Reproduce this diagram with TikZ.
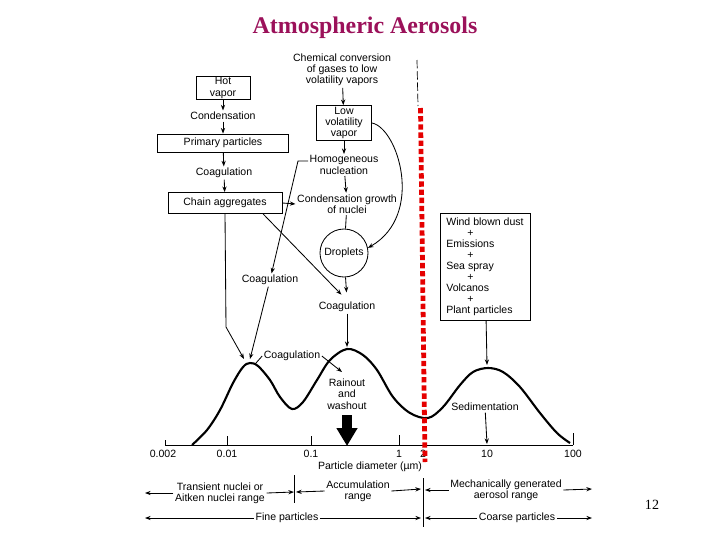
\documentclass[tikz,border=0pt]{standalone}
\usepackage{fontspec}
\setmainfont{Liberation Sans}
\newfontfamily\titlefont{Liberation Serif}
\usetikzlibrary{arrows.meta}
\definecolor{titlered}{RGB}{155,17,90}

\begin{document}
\begin{tikzpicture}
  [
    x=0.025cm,y=-0.025cm,
    font=\fontsize{7.5}{8}\selectfont,
    box/.style={draw,line width=0.6pt,align=center,inner sep=1pt},
    txt/.style={align=center,inner sep=1pt},
    arr/.style={line width=0.6pt,-{Stealth[length=4pt,width=3pt]}},
    plain/.style={line width=0.6pt},
    curve/.style={line width=1.5pt,line join=round},
    bigarr/.style={line width=0.25cm,-{Triangle[width=0.5cm,length=0.45cm]}},
    red dash/.style={draw=red!90!black,line width=3.4pt,dash pattern=on 3.8pt off 2pt},
  ]

  \useasboundingbox (0,0) rectangle (720,540);

  \node(title)[font=\titlefont\bfseries\fontsize{17}{20}\selectfont,text=titlered] at (365,28) {Atmospheric Aerosols};

  \node(hot)[box,minimum width=1.35cm,minimum height=0.575cm] at (223,88) {Hot\\vapor};
  \node(cond)[txt] at (223,116) {Condensation};
  \node(prim)[box,minimum width=3.275cm,minimum height=0.45cm] at (223,143) {Primary particles};
  \node(coag1)[txt] at (224,173) {Coagulation};
  \node(chain)[box,minimum width=2.85cm,minimum height=0.525cm] at (225,203) {Chain aggregates};

  \node(chem)[txt] at (342,70) {Chemical conversion\\of gases to low\\volatility vapors};
  \node(lowvap)[box,minimum width=1.375cm,minimum height=0.8cm] at (344,123) {Low\\volatility\\vapor};
  \node(homog)[txt] at (344,165) {Homogeneous\\nucleation};
  \node(condg)[txt] at (347,204) {Condensation growth\\of nuclei};
  \node(drop)[circle,draw,line width=0.6pt,minimum size=1.2cm,inner sep=0pt] at (344,253) {Droplets};
  \node(coagm)[txt] at (347,307) {Coagulation};
  \node(coagl)[txt] at (270,280) {Coagulation};
  \node(coagp)[txt] at (292,356) {Coagulation};
  \node(rain)[txt] at (347,394) {Rainout\\and\\washout};
  \node(sed)[txt] at (485,407) {Sedimentation};
  \node(wind)[box,align=left,font=\fontsize{7.5}{7.8}\selectfont,minimum width=2.25cm,minimum height=2.675cm,inner sep=3pt] at (485,266.5)
    {Wind blown dust\\\hspace*{15pt}+\\Emissions\\\hspace*{15pt}+\\Sea spray\\\hspace*{15pt}+\\Volcanos\\\hspace*{15pt}+\\Plant particles};

  \coordinate (bend) at (226,327);
  \coordinate (pk1a) at (244,359);
  \coordinate (pk1b) at (250,359);
  \coordinate (pk1c) at (256,363);
  \coordinate (pk2) at (347,347);
  \coordinate (pk3) at (487,365);
  \coordinate (hn) at (298,161);
  \coordinate (rn) at (342,372);
  \coordinate (ax10) at (487,444);

  \draw[arr] (hot) -- (cond);
  \draw[arr] (cond) -- (prim);
  \draw[arr] (prim) -- (coag1);
  \draw[arr] (coag1) -- (chain);
  \draw[arr] (chain.east) -- (condg.west);
  \draw[arr] (chain.south) -- (bend) -- (pk1a);
  \draw[arr,shorten >=2mm] (chain.-16) -- (coagm.north);
  \draw[arr] (chem) -- (lowvap);
  \draw[arr] (lowvap) -- (homog);
  \draw[arr] (homog) -- (condg);
  \draw[plain] (condg) -- (drop);
  \draw[arr,shorten >=2mm] (drop) -- (coagm.north);
  \draw[arr] (lowvap.east) .. controls (398,128) and (425,215) .. (drop.12);
  \draw[arr] (coagm) -- (pk2);
  \draw[arr] (homog.west |- hn) -- (hn) -- (coagl);
  \draw[arr] (coagl) -- (pk1b);
  \draw[plain] (coagp.west) -- (pk1c);
  \draw[arr] (coagp.east) -- (rn);
  \draw[arr] (wind) -- (pk3);
  \draw[arr] (sed) -- (ax10);
  \draw[bigarr,shorten <=3pt] (rain.south) -- (rain.south |- 0,446);

  \draw[curve] plot[smooth,tension=0.55] coordinates {
    (192,445) (207,430) (220,410) (233,383) (243,367) (250,363) (258,366)
    (270,380) (280,397) (292,409) (303,402) (317,380) (330,360) (347,349)
    (363,355) (377,370) (393,397) (410,413) (428,418) (443,407) (460,385)
    (473,372) (488,368) (503,372) (520,387) (540,413) (557,433) (570,443)};

  \draw[plain] (165,445) -- (573,445);
  \foreach \x/\h in {165/440,227/436,311/436,399/435,573/433}
    \draw[plain] (\x,445) -- (\x,\h);
  \foreach \x/\l [count=\i] in {163/0.002,227/0.01,311/0.1,399/1,423/2,487/10,573/100}
    \node(lab\i)[txt] at (\x,454) {\l};
  \node(xlab)[txt] at (370,467) {Particle diameter (µm)};

  \draw[line width=0.5pt,dash pattern=on 6pt off 2pt] (417,60) -- (418,106);
  \draw[red dash] (420.5,108) -- (425,462);

  \node(trans)[txt] at (220,493) {Transient nuclei or\\Aitken nuclei range};
  \node(accu)[txt] at (358,491) {Accumulation\\range};
  \node(mech)[txt] at (506,490) {Mechanically generated\\aerosol range};
  \node(fine)[txt] at (287,518) {Fine particles};
  \node(coarse)[txt] at (517,518) {Coarse particles};

  \coordinate (l1) at (145,493);
  \coordinate (d1) at (294,492);
  \coordinate (d2) at (296,492);
  \coordinate (d3) at (421,489);
  \coordinate (d4) at (425,490);
  \coordinate (r1) at (592,489);
  \coordinate (l2) at (145,518);
  \coordinate (d5) at (421,518);
  \coordinate (d6) at (425,518);
  \coordinate (r2) at (592,518);

  \draw[plain] (294,475) -- (294,503);
  \draw[plain] (423,478) -- (423,527);
  \draw[arr] (trans.west) -- (l1);
  \draw[arr] (trans.east) -- (d1);
  \draw[arr] (accu.west) -- (d2);
  \draw[arr] (accu.east) -- (d3);
  \draw[arr] (mech.west) -- (d4);
  \draw[arr] (mech.east) -- (r1);
  \draw[arr] (fine.west) -- (l2);
  \draw[arr] (fine.east) -- (d5);
  \draw[arr] (coarse.west) -- (d6);
  \draw[arr] (coarse.east) -- (r2);

  \node(page)[font=\titlefont\fontsize{10}{12}\selectfont] at (652,505) {12};

\end{tikzpicture}
\end{document}
